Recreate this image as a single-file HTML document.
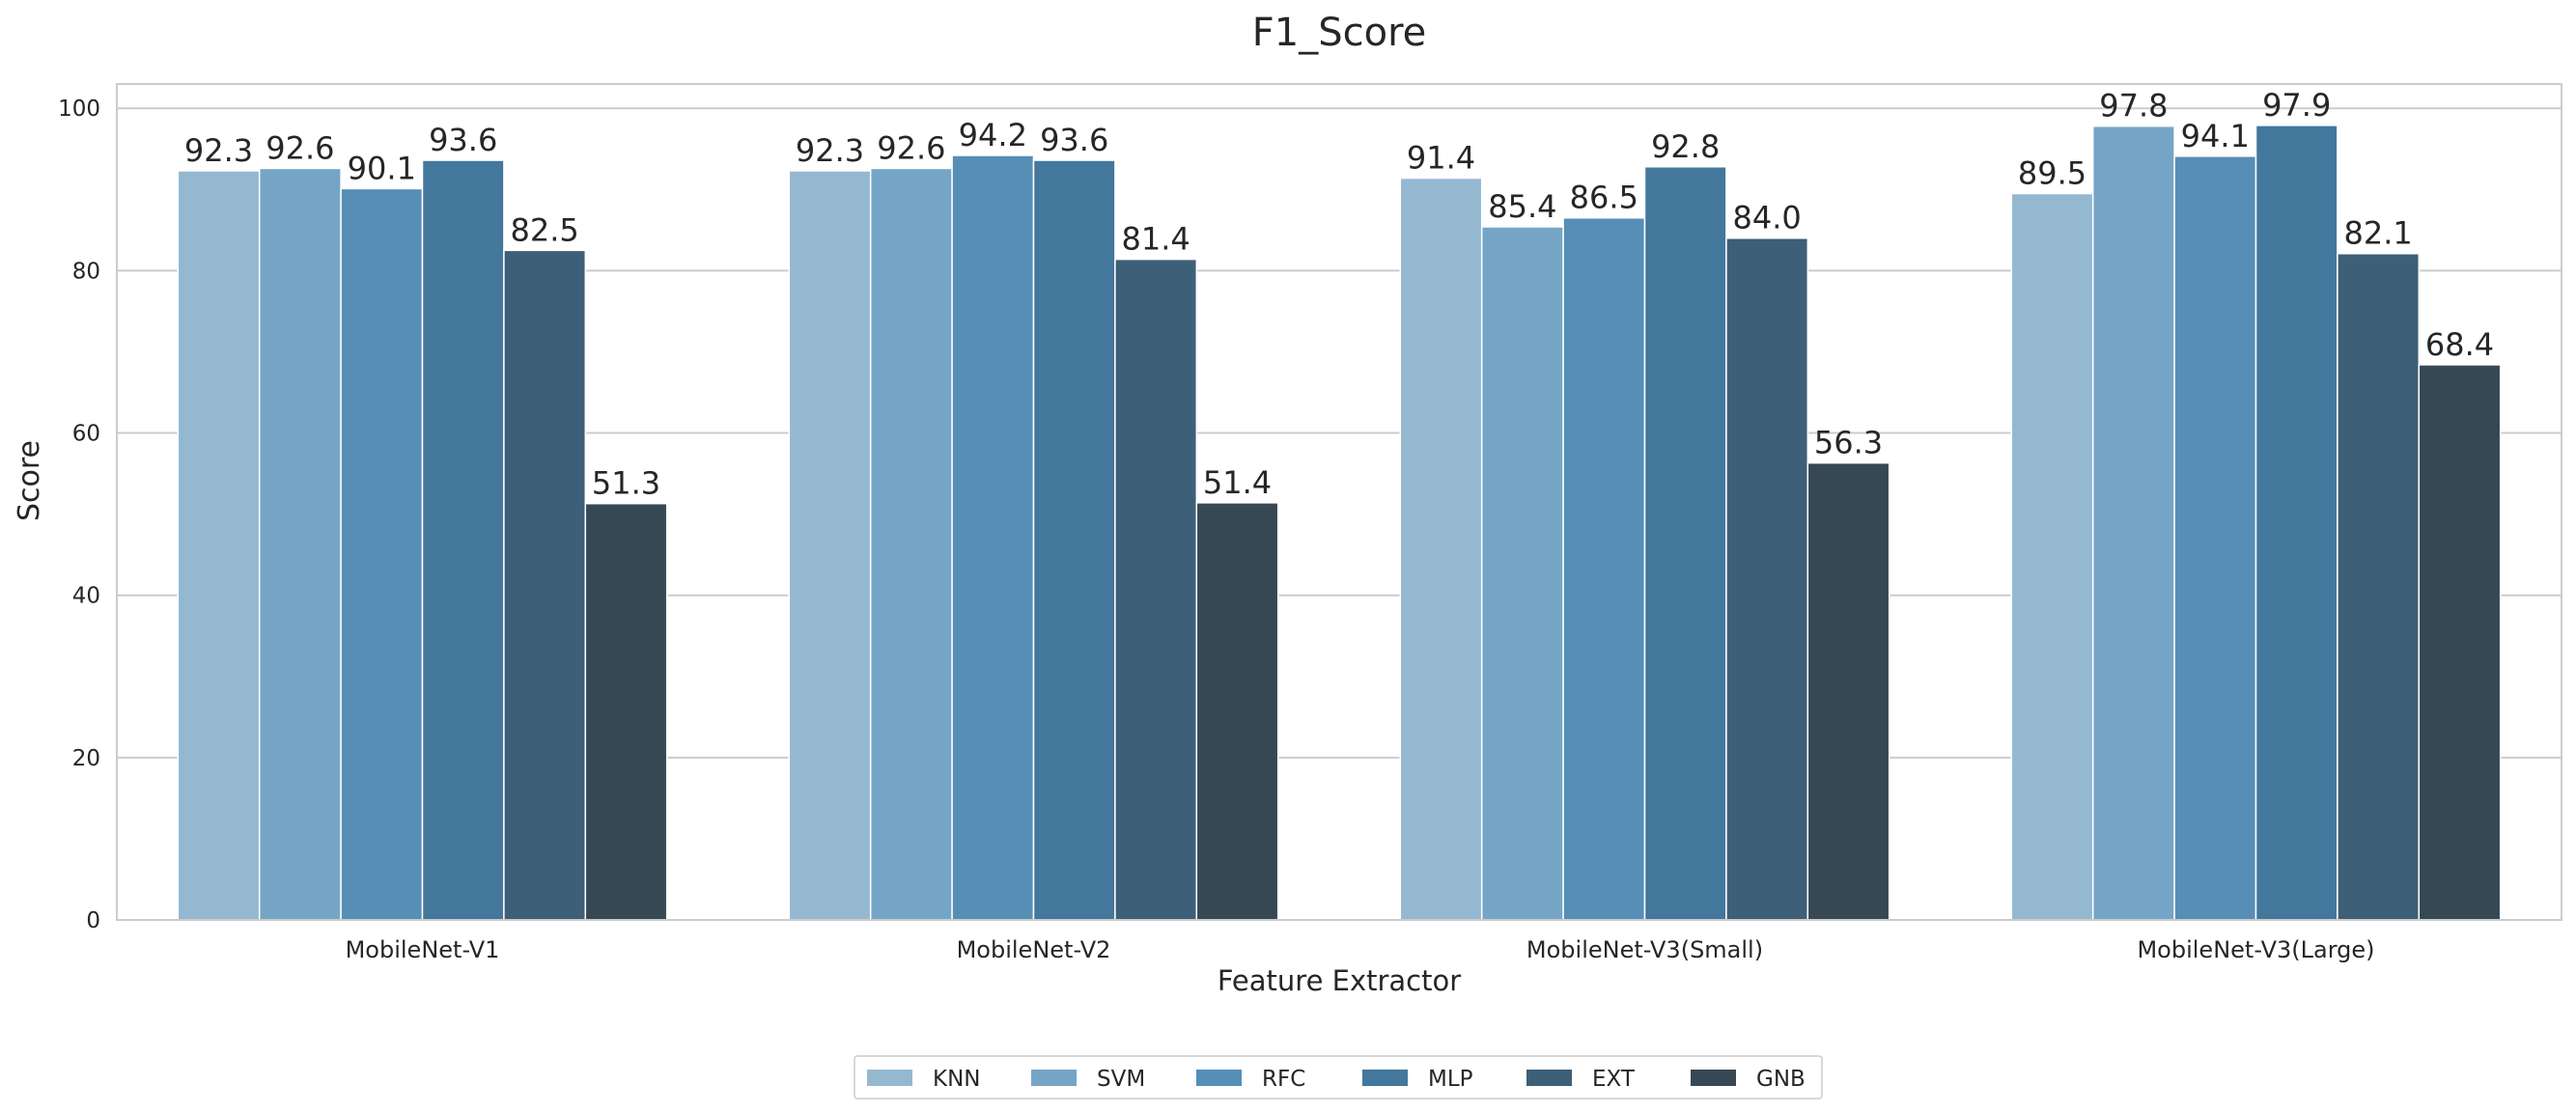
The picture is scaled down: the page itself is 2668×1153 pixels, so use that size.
<!DOCTYPE html>
<html><head><meta charset="utf-8"><style>
html,body{margin:0;padding:0;background:#fff}
svg{display:block;font-family:"DejaVu Sans","Liberation Sans",sans-serif}
</style></head><body>
<svg id="chart" width="2668" height="1153" viewBox="0 0 2668 1153" xmlns="http://www.w3.org/2000/svg">
<text x="1387" y="47" font-size="40" text-anchor="middle" fill="#262626">F1_Score</text>
<g id="grid"></g>
<g id="bars"></g>
<g id="labels"></g>
<rect x="121" y="87" width="2532" height="866" fill="none" stroke="#cccccc" stroke-width="2"/>
<g id="xt"></g>
<text x="1387" y="1026" font-size="29" text-anchor="middle" fill="#262626">Feature Extractor</text>
<text x="40" y="498" font-size="30" text-anchor="middle" fill="#262626" transform="rotate(-90 40 498)">Score</text>
<g id="legend">
<rect x="885" y="1094" width="1002" height="44" fill="#fff" stroke="#cccccc" stroke-width="1.5" rx="3"/>
</g>
</svg>
<script>
const categories = ["MobileNet-V1","MobileNet-V2","MobileNet-V3(Small)","MobileNet-V3(Large)"];
const seriesNames = ["KNN","SVM","RFC","MLP","EXT","GNB"];
const KNN = [92.3,92.3,91.4,89.5];
const SVM = [92.6,92.6,85.4,97.8];
const RFC = [90.1,94.2,86.5,94.1];
const MLP = [93.6,93.6,92.8,97.9];
const EXT = [82.5,81.4,84.0,82.1];
const GNB = [51.3,51.4,56.3,68.4];
const yTicks = [0,20,40,60,80,100];
const series = [KNN,SVM,RFC,MLP,EXT,GNB];
const colors = ["#95b8d1","#75a5c6","#568eb6","#43779c","#3d5f78","#374855"];
const NS="http://www.w3.org/2000/svg";
const L=121,R=2653,T=87,B=953,yMax=103;
const y=v=>B-(v/yMax)*(B-T);
const step=(R-L)/categories.length;
const xc=i=>L+step*(i+0.5);
const bw=step*0.8/series.length;
function mk(tag,attrs,parent){const e=document.createElementNS(NS,tag);for(const k in attrs)e.setAttribute(k,attrs[k]);document.getElementById(parent).appendChild(e);return e;}
yTicks.forEach(t=>{
  const l=mk('line',{x1:L,x2:R,y1:y(t),y2:y(t),stroke:'#cccccc','stroke-width':2},'grid');
  
  
  const tx=mk('text',{x:104,y:y(t)+8,'font-size':23,'text-anchor':'end',fill:'#262626'},'grid');
  tx.textContent=t;
  
  
});
categories.forEach((c,i)=>{
  const tx=mk('text',{x:xc(i),y:992,'font-size':24,'text-anchor':'middle',fill:'#262626'},'xt');
  tx.textContent=c;
  
  
  series.forEach((s,j)=>{
    const x0=xc(i)-step*0.4+bw*j;
    const r=mk('rect',{x:x0,y:y(s[i]),width:bw,height:B-y(s[i]),fill:colors[j],stroke:'#fff','stroke-width':1.5},'bars');
    
    
    const t=mk('text',{x:x0+bw/2,y:y(s[i])-10,'font-size':32,'text-anchor':'middle',fill:'#262626'},'labels');
    t.textContent=s[i].toFixed(1);
    
    
  });
});
const lx=[898,1068,1239,1411,1581,1751];
seriesNames.forEach((n,j)=>{
  const p=mk('rect',{x:lx[j],y:1108,width:47,height:17,fill:colors[j]},'legend');
  
  
  const t=mk('text',{x:lx[j]+68,y:1125,'font-size':23,fill:'#262626'},'legend');
  t.textContent=n;
  
  
});
</script>
</body></html>
